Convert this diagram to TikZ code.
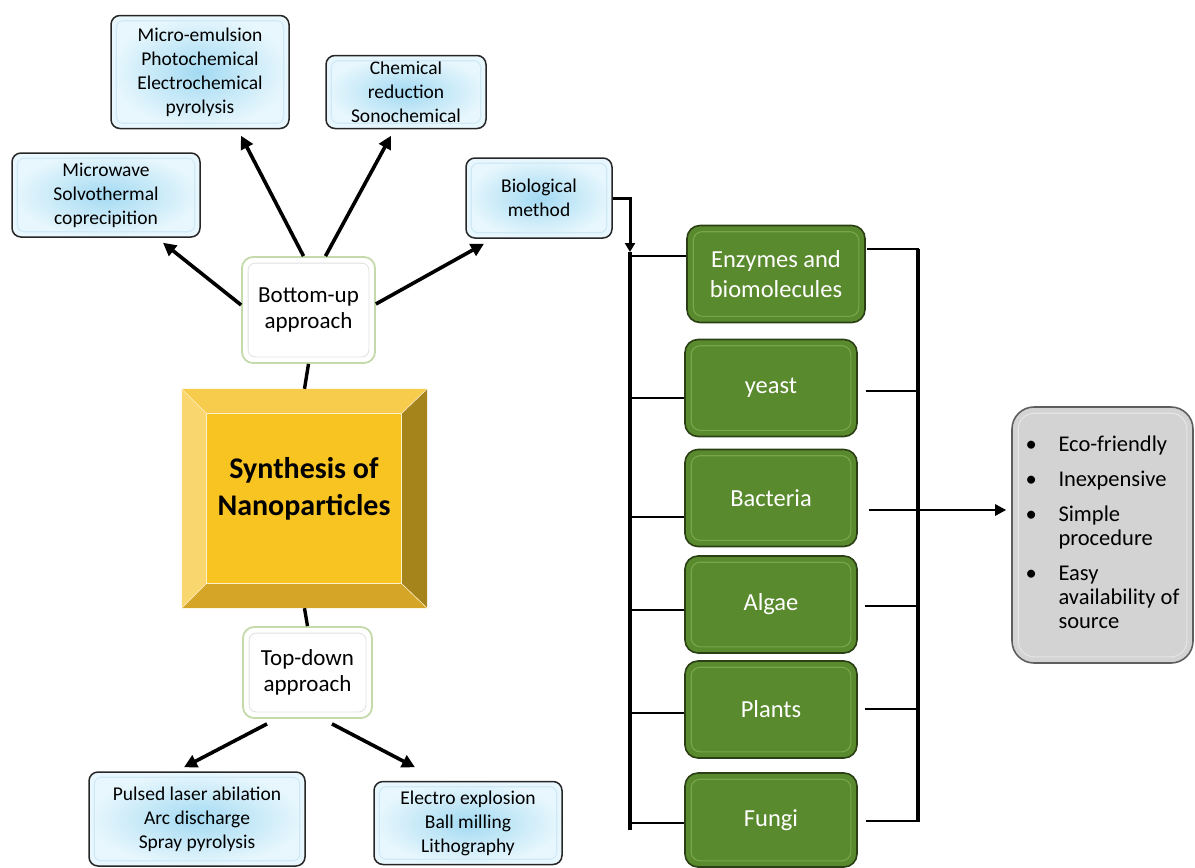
\documentclass[tikz,border=0pt]{standalone}
\usepackage{fontspec}
\setmainfont{Carlito}
\usetikzlibrary{arrows.meta,calc}
\definecolor{bluein}{HTML}{A3DAF2}
\definecolor{blueout}{HTML}{E8F7FD}
\definecolor{bluerim}{HTML}{CFEAF6}
\definecolor{greenfill}{HTML}{5A8A2E}
\definecolor{greenedge}{HTML}{2A4014}
\definecolor{greenrim}{HTML}{78A64A}
\definecolor{grayfill}{HTML}{D3D3D3}
\definecolor{grayedge}{HTML}{5E5E5E}
\definecolor{grayrim}{HTML}{E4E4E4}
\definecolor{apprline}{HTML}{C4DAAA}
\definecolor{bevtop}{HTML}{F7CB4C}
\definecolor{bevleft}{HTML}{F9D66E}
\definecolor{bevright}{HTML}{A6841C}
\definecolor{bevbot}{HTML}{D4A526}
\definecolor{bevmid}{HTML}{F8C422}
\begin{document}
\begin{tikzpicture}[x=1pt,y=-1pt,
  bluebox/.style={draw=black!85, line width=1.5pt, rounded corners=9pt,
    inner color=bluein, outer color=blueout, align=center, inner sep=0pt,
    font=\fontsize{19.5}{24}\selectfont},
  apprbox/.style={draw=apprline, fill=white, line width=1.8pt, rounded corners=11pt,
    align=center, inner sep=0pt, font=\fontsize{23}{26}\selectfont},
  greenbox/.style={draw=greenedge, fill=greenfill, line width=1.6pt, rounded corners=13pt,
    text=white, align=center, inner sep=0pt, minimum width=172pt, minimum height=97pt,
    font=\fontsize{24.5}{30}\selectfont},
  graybox/.style={draw=grayedge, fill=grayfill, line width=1.6pt, rounded corners=22pt,
    inner sep=0pt, font=\fontsize{22.5}{24}\selectfont},
  rim/.style={line width=1.1pt, rounded corners=7pt},
  arr/.style={line width=3.6pt, -{Triangle[length=13pt,width=13pt]}},
  conn/.style={line width=2.6pt},
  vconn/.style={line width=3.4pt},
  smallarr/.style={line width=3pt, -{Triangle[length=9pt,width=10pt]}}
]
\useasboundingbox (0,0) rectangle (1195,868);

% blue boxes
\node[bluebox, minimum width=178pt, minimum height=113pt] (me) at (200,72)
  {Micro-emulsion\\Photochemical\\Electrochemical\\pyrolysis};
\node[bluebox, minimum width=160pt, minimum height=73pt] (ch) at (406,92)
  {Chemical\\reduction\\Sonochemical};
\node[bluebox, minimum width=188pt, minimum height=84pt] (mw) at (106,195)
  {Microwave\\Solvothermal\\coprecipition};
\node[bluebox, minimum width=146pt, minimum height=80pt] (bio) at (539,198)
  {Biological\\method};
\node[bluebox, minimum width=216pt, minimum height=94pt] (pl) at (197,819)
  {Pulsed laser abilation\\Arc discharge\\Spray pyrolysis};
\node[bluebox, minimum width=188pt, minimum height=83pt] (el) at (468,823)
  {Electro explosion\\Ball milling\\Lithography};
\foreach \n in {me,ch,mw,bio,pl,el}
  \draw[rim, bluerim] ($(\n.north west)+(6,6)$) rectangle ($(\n.south east)+(-6,-6)$);

% approach boxes
\node[apprbox, minimum width=133pt, minimum height=106pt] (bu) at (308.5,310) {Bottom-up\\approach};
\node[apprbox, minimum width=129pt, minimum height=91pt] (td) at (307.5,672.5) {Top-down\\approach};
\foreach \n in {bu,td}
  \draw[rim, black!12, line width=0.8pt] ($(\n.north west)+(7,7)$) rectangle ($(\n.south east)+(-7,-7)$);

% central bevelled square
\node[minimum width=245pt, minimum height=219pt, inner sep=0pt] (sq) at (304.5,498.5) {};
\coordinate (iNW) at ($(sq.north west)+(25,25)$);
\coordinate (iNE) at ($(sq.north east)+(-26,25)$);
\coordinate (iSW) at ($(sq.south west)+(25,-25)$);
\coordinate (iSE) at ($(sq.south east)+(-26,-25)$);
\fill[bevtop] (sq.north west) -- (sq.north east) -- (iNE) -- (iNW) -- cycle;
\fill[bevleft] (sq.north west) -- (iNW) -- (iSW) -- (sq.south west) -- cycle;
\fill[bevright] (sq.north east) -- (sq.south east) -- (iSE) -- (iNE) -- cycle;
\fill[bevbot] (sq.south west) -- (iSW) -- (iSE) -- (sq.south east) -- cycle;
\fill[bevmid] (iNW) rectangle (iSE);
\draw[white!70!bevtop, line width=0.8pt] (iNW) rectangle (iSE);
\draw[white!70!bevtop, line width=0.6pt] (sq.north west) -- (iNW) (sq.north east) -- (iNE)
  (sq.south west) -- (iSW) (sq.south east) -- (iSE);
\node[align=center, font=\fontsize{30}{37}\selectfont\bfseries] (syntext) at (304,489)
  {Synthesis of\\Nanoparticles};

% central connectors
\draw[vconn] (bu.south) -- (sq.north);
\draw[vconn] (sq.south) -- (td.north);

% bottom-up arrows
\draw[arr] ([yshift=5pt]bu.west) -- ([xshift=57pt,yshift=-5pt]mw.south);
\draw[arr] ([xshift=-5pt]bu.north) -- ([xshift=41pt,yshift=-6.5pt]me.south);
\draw[arr] ([xshift=17pt]bu.north) -- ([xshift=-15pt,yshift=-6.5pt]ch.south);
\draw[arr] ([yshift=6pt]bu.east) -- ([xshift=-55pt,yshift=-5pt]bio.south);

% top-down arrows
\draw[arr] ([xshift=-40.5pt,yshift=-5pt]td.south) -- ([xshift=-13pt,yshift=4pt]pl.north);
\draw[arr] ([xshift=24.5pt,yshift=-5pt]td.south) -- ([xshift=-53pt,yshift=13.5pt]el.north);

% green boxes
\node[greenbox, minimum width=178pt] (enz) at (776,274) {Enzymes and\\biomolecules};
\node[greenbox] (yeast) at (771,388) {yeast};
\node[greenbox] (bac) at (771,498) {Bacteria};
\node[greenbox] (alg) at (771,604.5) {Algae};
\node[greenbox] (plt) at (771,709.5) {Plants};
\node[greenbox, minimum height=94pt] (fun) at (771,820) {Fungi};
\foreach \n in {enz,yeast,bac,alg,plt,fun}
  \draw[rim, greenrim, rounded corners=9pt] ($(\n.north west)+(7,7)$) rectangle ($(\n.south east)+(-7,-7)$);

% gray box
\node[graybox, minimum width=181pt, minimum height=256pt] (gray) at (1102.5,535)
  {\begin{tabular}{@{}p{33pt}@{}l@{}}
  •& Eco-friendly\\[11pt]
  •& Inexpensive\\[11pt]
  •& Simple\\ & procedure\\[11pt]
  •& Easy\\ & availability of\\ & source
  \end{tabular}};
\draw[rim, grayrim, rounded corners=16pt] ($(gray.north west)+(7,7)$) rectangle ($(gray.south east)+(-7,-7)$);

% left bracket
\coordinate (Ltop) at (630,252);
\coordinate (Lbot) at (630,830);
\coordinate (Rtop) at (918,249);
\coordinate (Rbot) at (918,822);
\draw[smallarr] (bio.east) -| (Ltop);
\draw[vconn] (Ltop) -- (Lbot);
\draw[conn] ([yshift=18pt]enz.west) -- ++(-57,0);
\draw[conn] ([yshift=-10pt]yeast.west) -- ++(-56,0);
\draw[conn] ([yshift=-19pt]bac.west) -- ++(-56,0);
\draw[conn] ([yshift=-5.5pt]alg.west) -- ++(-56,0);
\draw[conn] ([yshift=-3.5pt]plt.west) -- ++(-56,0);
\draw[conn] ([yshift=-3pt]fun.west) -- ++(-56,0);

% right bracket
\draw[vconn] (Rtop) -- (Rbot);
\draw[conn] ([xshift=1pt,yshift=25pt]enz.east) -- ++(52,0);
\draw[conn] ([xshift=8pt,yshift=-3pt]yeast.east) -- ++(53,0);
\draw[conn] ([xshift=7pt,yshift=-1.5pt]alg.east) -- ++(54,0);
\draw[conn] ([xshift=7pt,yshift=0.5pt]plt.east) -- ++(54,0);
\draw[conn] ([xshift=8pt,yshift=-1pt]fun.east) -- ++(53,0);
\draw[conn, -{Triangle[length=11pt,width=11pt]}] ([xshift=11pt,yshift=-12pt]bac.east)
  -- ([xshift=-5pt,yshift=25pt]gray.west);
\end{tikzpicture}
\end{document}
